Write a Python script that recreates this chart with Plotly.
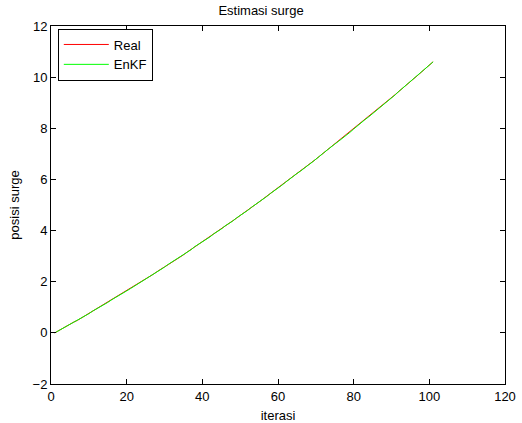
import plotly.graph_objects as go

iterasi = list(range(1, 102))

real = [
    0.00, 0.09, 0.17, 0.24, 0.33, 0.42, 0.49, 0.58, 0.67, 0.76,
    0.84, 0.94, 1.01, 1.10, 1.20, 1.28, 1.37, 1.47, 1.55, 1.63,
    1.74, 1.83, 1.91, 2.01, 2.10, 2.19, 2.29, 2.39, 2.47, 2.58,
    2.67, 2.76, 2.87, 2.96, 3.05, 3.16, 3.26, 3.36, 3.45, 3.55,
    3.66, 3.76, 3.86, 3.96, 4.07, 4.17, 4.27, 4.38, 4.48, 4.59,
    4.69, 4.80, 4.90, 5.01, 5.12, 5.23, 5.34, 5.44, 5.56, 5.67,
    5.78, 5.89, 6.00, 6.11, 6.22, 6.34, 6.45, 6.56, 6.68, 6.79,
    6.91, 7.03, 7.14, 7.26, 7.37, 7.49, 7.61, 7.73, 7.85, 7.97,
    8.09, 8.21, 8.33, 8.45, 8.58, 8.70, 8.82, 8.95, 9.07, 9.19,
    9.32, 9.45, 9.57, 9.70, 9.83, 9.95, 10.08, 10.21, 10.34, 10.47,
    10.60,
]

enkf = [
    0.00, 0.08, 0.18, 0.25, 0.33, 0.41, 0.50, 0.59, 0.66, 0.75,
    0.85, 0.93, 1.02, 1.11, 1.19, 1.29, 1.37, 1.46, 1.56, 1.64,
    1.73, 1.82, 1.92, 2.00, 2.11, 2.19, 2.28, 2.38, 2.48, 2.57,
    2.68, 2.77, 2.86, 2.97, 3.06, 3.15, 3.25, 3.37, 3.46, 3.56,
    3.65, 3.75, 3.87, 3.96, 4.06, 4.18, 4.27, 4.37, 4.49, 4.58,
    4.70, 4.79, 4.91, 5.01, 5.11, 5.23, 5.33, 5.45, 5.55, 5.67,
    5.77, 5.89, 6.01, 6.11, 6.23, 6.33, 6.46, 6.56, 6.67, 6.80,
    6.90, 7.03, 7.15, 7.25, 7.38, 7.49, 7.60, 7.74, 7.84, 7.97,
    8.10, 8.20, 8.34, 8.45, 8.57, 8.71, 8.82, 8.94, 9.08, 9.19,
    9.31, 9.45, 9.58, 9.69, 9.83, 9.96, 10.07, 10.21, 10.35, 10.46,
    10.60,
]

x_ticks = [0, 20, 40, 60, 80, 100, 120]
y_ticks = [-2, 0, 2, 4, 6, 8, 10, 12]

FONT = "Liberation Sans, Arial, sans-serif"

fig = go.Figure()
fig.add_trace(go.Scatter(x=iterasi, y=real, mode="lines", name="Real",
                         line=dict(color="#ff0000", width=1)))
fig.add_trace(go.Scatter(x=iterasi, y=enkf, mode="lines", name="EnKF",
                         line=dict(color="#00ff00", width=1)))

axis_common = dict(
    showline=True, linecolor="black", linewidth=1, mirror="ticks",
    ticks="inside", ticklen=5, tickwidth=1, tickcolor="black",
    showgrid=False, zeroline=False, automargin=False,
    tickfont=dict(family=FONT, size=13, color="black"),
)

fig.update_xaxes(range=[0, 120], tickvals=x_ticks,
                 title=dict(text="iterasi", font=dict(family=FONT, size=13, color="black"), standoff=11),
                 **axis_common)
fig.update_yaxes(range=[-2, 12], tickvals=y_ticks,
                 title=dict(text="posisi surge", font=dict(family=FONT, size=13, color="black"), standoff=10),
                 **axis_common)

fig.update_layout(
    width=522, height=423, autosize=False,
    margin=dict(l=51, r=17, t=26, b=39),
    paper_bgcolor="white", plot_bgcolor="white",
    title=dict(text="Estimasi surge", x=0.5, xanchor="center", y=0.975, yanchor="middle",
               font=dict(family=FONT, size=13, color="black")),
    legend=dict(x=0.015, y=0.993, xanchor="left", yanchor="top",
                bordercolor="black", borderwidth=1, bgcolor="white",
                itemwidth=45, tracegroupgap=0,
                font=dict(family=FONT, size=13, color="black")),
    showlegend=True,
)

fig.write_html("out.html", config={"displayModeBar": False},
               post_script="document.body.style.margin='0';")
